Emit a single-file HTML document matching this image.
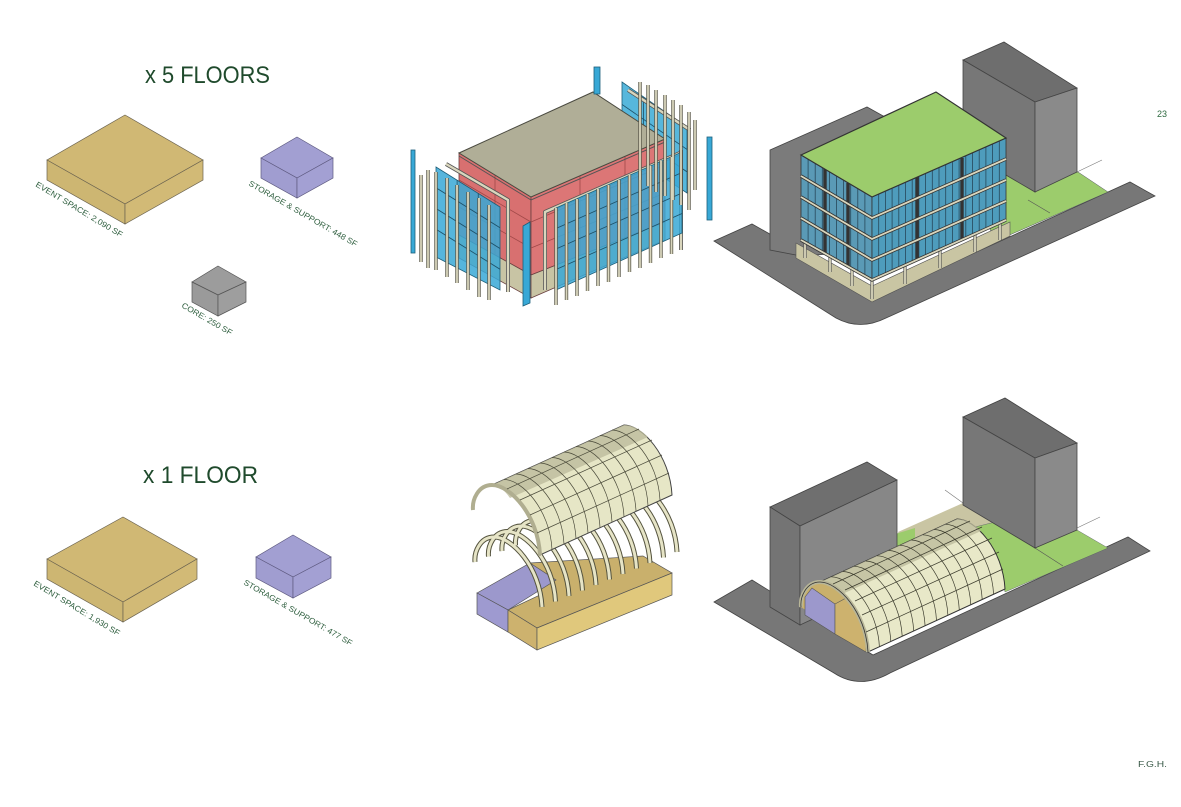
<!DOCTYPE html>
<html><head><meta charset="utf-8"><style>
html,body{margin:0;padding:0;background:#fff;}
svg{display:block;}
text{font-family:"Liberation Sans",sans-serif;}
.g line,.g path{vector-effect:non-scaling-stroke;}
</style></head><body>
<svg width="1181" height="807" viewBox="0 0 1181 807" xmlns="http://www.w3.org/2000/svg">
<defs>
<g id="postsR">
<line x1="556" y1="208" x2="556" y2="305"/><line x1="566.5" y1="203" x2="566.5" y2="300"/><line x1="577" y1="199" x2="577" y2="296"/><line x1="587.5" y1="194" x2="587.5" y2="291"/><line x1="598" y1="189" x2="598" y2="286"/><line x1="608.5" y1="185" x2="608.5" y2="282"/><line x1="619" y1="180" x2="619" y2="277"/><line x1="629.5" y1="175" x2="629.5" y2="272"/><line x1="640" y1="171" x2="640" y2="268"/><line x1="650.5" y1="166" x2="650.5" y2="263"/><line x1="661" y1="161" x2="661" y2="258"/><line x1="671.5" y1="157" x2="671.5" y2="254"/>
<line x1="436" y1="172" x2="436" y2="270"/><line x1="447" y1="178" x2="447" y2="277"/><line x1="457" y1="185" x2="457" y2="283"/><line x1="468" y1="192" x2="468" y2="290"/><line x1="479" y1="198" x2="479" y2="297"/><line x1="489" y1="205" x2="489" y2="300"/><line x1="421" y1="175" x2="421" y2="262"/><line x1="428" y1="170" x2="428" y2="268"/>
<line x1="640" y1="82" x2="640" y2="180"/><line x1="648" y1="85" x2="648" y2="186"/><line x1="656" y1="90" x2="656" y2="192"/><line x1="665" y1="95" x2="665" y2="196"/><line x1="673" y1="100" x2="673" y2="200"/><line x1="681" y1="105" x2="681" y2="205"/><line x1="689" y1="112" x2="689" y2="210"/><line x1="695" y1="120" x2="695" y2="190"/>
</g>
<g id="ribs" fill="none">
<path d="M542,607 c-2,-40 -30,-70 -48,-70 c-14,0 -20,15 -19,25"/>
<path d="M555.5,601.5 c-2,-40 -30,-70 -48,-70 c-14,0 -20,15 -19,25"/>
<path d="M569,596 c-2,-40 -30,-70 -48,-70 c-14,0 -20,15 -19,25"/>
<path d="M582.5,590.5 c-2,-40 -30,-70 -48,-70 c-14,0 -20,15 -19,25"/>
<path d="M596,585 c-2,-40 -30,-70 -48,-70"/>
<path d="M609.5,579.5 c-2,-40 -30,-70 -48,-70"/>
<path d="M623,574 c-2,-40 -30,-70 -48,-70"/>
<path d="M636.5,568.5 c-2,-40 -30,-70 -48,-70"/>
<path d="M650,563 c-2,-40 -30,-70 -48,-70"/>
<path d="M663.5,557.5 c-2,-40 -30,-70 -48,-70"/>
<path d="M677,552 c-2,-40 -30,-70 -48,-70"/>
</g>
</defs>

<!-- titles -->
<text x="145" y="83" font-size="24" fill="#1f4a2c" textLength="125" lengthAdjust="spacingAndGlyphs">x 5 FLOORS</text>
<text x="143" y="483" font-size="24" fill="#1f4a2c" textLength="115" lengthAdjust="spacingAndGlyphs">x 1 FLOOR</text>
<text x="1157" y="117" font-size="9" fill="#2e6a40">23</text>
<text x="1138" y="767" font-size="8" fill="#3a5a48" textLength="29" lengthAdjust="spacingAndGlyphs">F.G.H.</text>

<!-- program boxes top -->
<g stroke="#6b6350" stroke-width="0.7">
<polygon points="125,115 203,160 125,204 47,160" fill="#d0b874"/>
<polygon points="47,160 125,204 125,224 47,180" fill="#cdb672"/>
<polygon points="125,204 203,160 203,180 125,224" fill="#d2ba76"/>
</g>
<g stroke="#5e5a80" stroke-width="0.7">
<polygon points="297,137 333,158 297,178 261,158" fill="#a29fd2"/>
<polygon points="261,158 297,178 297,198 261,178" fill="#a09dd0"/>
<polygon points="297,178 333,158 333,178 297,198" fill="#a3a0d3"/>
</g>
<g stroke="#555" stroke-width="0.7">
<polygon points="218,266 246,282 218,295 192,282" fill="#9c9c9c"/>
<polygon points="192,282 218,295 218,316 192,302" fill="#9a9a9a"/>
<polygon points="218,295 246,282 246,302 218,316" fill="#9e9e9e"/>
</g>
<g font-size="8" fill="#2e5e3e">
<text transform="translate(35,186) rotate(31)" textLength="100" lengthAdjust="spacingAndGlyphs">EVENT SPACE: 2,090 SF</text>
<text transform="translate(248,185) rotate(30)" textLength="124" lengthAdjust="spacingAndGlyphs">STORAGE &amp; SUPPORT: 448 SF</text>
<text transform="translate(181,307) rotate(30)" textLength="57" lengthAdjust="spacingAndGlyphs">CORE: 250 SF</text>
<text transform="translate(33,585) rotate(31)" textLength="99" lengthAdjust="spacingAndGlyphs">EVENT SPACE: 1,930 SF</text>
<text transform="translate(243,584) rotate(30)" textLength="124" lengthAdjust="spacingAndGlyphs">STORAGE &amp; SUPPORT: 477 SF</text>
</g>

<!-- program boxes bottom -->
<g stroke="#6b6350" stroke-width="0.7">
<polygon points="123,517 197,559 123,602 47,559" fill="#d0b874"/>
<polygon points="47,559 123,602 123,622 47,579" fill="#cdb672"/>
<polygon points="123,602 197,559 197,579 123,622" fill="#d2ba76"/>
</g>
<g stroke="#5e5a80" stroke-width="0.7">
<polygon points="293,535 331,557 293,577 256,557" fill="#a29fd2"/>
<polygon points="256,557 293,577 293,598 256,578" fill="#a09dd0"/>
<polygon points="293,577 331,557 331,578 293,598" fill="#a3a0d3"/>
</g>

<!-- ============ TOP MIDDLE: exploded building ============ -->
<!-- back panel -->
<polygon points="622,82 687,127 687,193 622,150" fill="#3aaad6" fill-opacity="0.85" stroke="#1d5f7a" stroke-width="0.8"/>
<g class="g" transform="matrix(65,45,0,68,622,82)" stroke="#1d4f66" stroke-width="0.8">
<line x1="0.33" y1="0" x2="0.33" y2="1"/><line x1="0.66" y1="0" x2="0.66" y2="1"/><line x1="0" y1="0.33" x2="1" y2="0.33"/><line x1="0" y1="0.66" x2="1" y2="0.66"/>
</g>
<polyline points="628,90 690,130" fill="none" stroke="#555" stroke-width="4"/>
<polyline points="628,90 690,130" fill="none" stroke="#d9d6bd" stroke-width="2.4"/>
<!-- red walls -->
<g stroke="#6a4040" stroke-width="0.8">
<polygon points="459,153 531,197 531,275 459,235" fill="#d87070"/>
<polygon points="531,197 665,139 665,222 531,275" fill="#dc7676"/>
<polygon points="459,235 531,275 531,298 459,258" fill="#c8c4a4"/>
<polygon points="531,275 665,222 665,240 531,298" fill="#c8c4a4"/>
</g>
<g stroke="#a04848" stroke-width="0.8">
<line x1="459" y1="180" x2="531" y2="222"/><line x1="459" y1="207" x2="531" y2="248"/>
<line x1="531" y1="222" x2="665" y2="165"/><line x1="531" y1="248" x2="665" y2="193"/>
<line x1="495" y1="175" x2="495" y2="255"/><line x1="580" y1="176" x2="580" y2="256"/><line x1="625" y1="156" x2="625" y2="238"/>
</g>
<!-- roof -->
<polygon points="459,153 593,92 665,139 531,197" fill="#b0ae97" stroke="#4a4a40" stroke-width="1"/>
<polyline points="459,156 531,200 665,142" fill="none" stroke="#555" stroke-width="1"/>
<!-- frames -->
<g fill="none" stroke-linejoin="round">
<polyline points="446,164 508,200 508,292" stroke="#555" stroke-width="4"/>
<polyline points="446,164 508,200 508,292" stroke="#d9d6bd" stroke-width="2.4"/>
<polyline points="545,290 545,212 680,153" stroke="#555" stroke-width="4"/>
<polyline points="545,290 545,212 680,153" stroke="#d9d6bd" stroke-width="2.4"/>
<polyline points="681,150 681,250" stroke="#555" stroke-width="4"/>
<polyline points="681,150 681,250" stroke="#d9d6bd" stroke-width="2.4"/>
</g>
<!-- front panels -->
<polygon points="436,167 500,207 500,290 436,257" fill="#38a8d6" fill-opacity="0.85" stroke="#1d5f7a" stroke-width="0.8"/>
<g class="g" transform="matrix(64,40,0,83,436,167)" stroke="#1d4f66" stroke-width="0.8">
<line x1="0.33" y1="0" x2="0.33" y2="1"/><line x1="0.66" y1="0" x2="0.66" y2="1"/><line x1="0" y1="0.25" x2="1" y2="0.25"/><line x1="0" y1="0.5" x2="1" y2="0.5"/><line x1="0" y1="0.75" x2="1" y2="0.75"/>
</g>
<polygon points="556,208 682,152 682,233 556,290" fill="#38a8d6" fill-opacity="0.85" stroke="#1d5f7a" stroke-width="0.8"/>
<g class="g" transform="matrix(126,-56,0,82,556,208)" stroke="#1d4f66" stroke-width="0.8">
<line x1="0.17" y1="0" x2="0.17" y2="1"/><line x1="0.33" y1="0" x2="0.33" y2="1"/><line x1="0.5" y1="0" x2="0.5" y2="1"/><line x1="0.66" y1="0" x2="0.66" y2="1"/><line x1="0.83" y1="0" x2="0.83" y2="1"/>
<line x1="0" y1="0.25" x2="1" y2="0.25"/><line x1="0" y1="0.5" x2="1" y2="0.5"/><line x1="0" y1="0.75" x2="1" y2="0.75"/>
</g>
<!-- posts -->
<use href="#postsR" stroke="#5a584a" stroke-width="3.4"/>
<use href="#postsR" stroke="#d9d6bd" stroke-width="1.8"/>
<!-- standalone blue columns -->
<g fill="#38a8d6" stroke="#1d5f7a" stroke-width="0.8">
<rect x="411" y="150" width="4" height="103"/>
<rect x="594" y="67" width="6" height="27"/>
<rect x="707" y="137" width="5" height="83"/>
<polygon points="523,226 530,222 530,303 523,306"/>
</g>

<!-- ============ TOP RIGHT SITE ============ -->
<path d="M714,241 L752,224 L880,296 L1130,182 L1155,196 L886,318 Q860,331 836,318 Z" fill="#777" stroke="#444" stroke-width="0.8"/>
<polygon points="1000,172 1078,172 1108,192 1005,237 990,230" fill="#9ccc6c" stroke="#556" stroke-width="0.5"/>
<line x1="1050" y1="213" x2="1028" y2="200" stroke="#555" stroke-width="0.6"/>
<line x1="1077" y1="172" x2="1102" y2="160" stroke="#777" stroke-width="0.6"/>
<polygon points="770,150 867,107 885,117 885,250 801,256 770,250" fill="#7b7b7b" stroke="#444" stroke-width="0.8"/>
<!-- tall building -->
<g stroke="#444" stroke-width="0.8">
<polygon points="963,60 1004,42 1077,88 1035,102" fill="#6e6e6e"/>
<polygon points="963,60 1035,102 1035,192 963,150" fill="#777"/>
<polygon points="1035,102 1077,88 1077,172 1035,192" fill="#8a8a8a"/>
</g>
<!-- ground under building -->
<polygon points="796,243 872,286 1010,222 1010,236 872,302 796,258" fill="#c9c5a3" stroke="#555" stroke-width="0.6"/>
<g stroke="#555" stroke-width="3.2"><line x1="805" y1="240" x2="805" y2="258"/><line x1="830" y1="255" x2="830" y2="272"/><line x1="852" y1="268" x2="852" y2="286"/><line x1="872" y1="280" x2="872" y2="299"/><line x1="905" y1="265" x2="905" y2="284"/><line x1="940" y1="250" x2="940" y2="268"/><line x1="975" y1="235" x2="975" y2="252"/><line x1="1000" y1="222" x2="1000" y2="240"/></g>
<g stroke="#d9d6bd" stroke-width="1.8"><line x1="805" y1="240" x2="805" y2="258"/><line x1="830" y1="255" x2="830" y2="272"/><line x1="852" y1="268" x2="852" y2="286"/><line x1="872" y1="280" x2="872" y2="299"/><line x1="905" y1="265" x2="905" y2="284"/><line x1="940" y1="250" x2="940" y2="268"/><line x1="975" y1="235" x2="975" y2="252"/><line x1="1000" y1="222" x2="1000" y2="240"/></g>
<!-- glazing faces -->
<polygon points="801,155 872,197 872,280 801,240" fill="#5a9ab6" stroke="#333" stroke-width="0.8"/>
<polygon points="872,197 1006,138 1006,220 872,280" fill="#4e9cbc" stroke="#333" stroke-width="0.8"/>
<g class="g" transform="matrix(71,42,0,85,801,155)" stroke="#27485a" stroke-width="0.8">
<line x1="0.1" y1="0" x2="0.1" y2="1"/><line x1="0.2" y1="0" x2="0.2" y2="1"/><line x1="0.3" y1="0" x2="0.3" y2="1"/><line x1="0.4" y1="0" x2="0.4" y2="1"/><line x1="0.5" y1="0" x2="0.5" y2="1"/><line x1="0.6" y1="0" x2="0.6" y2="1"/><line x1="0.7" y1="0" x2="0.7" y2="1"/><line x1="0.8" y1="0" x2="0.8" y2="1"/><line x1="0.9" y1="0" x2="0.9" y2="1"/>
</g>
<g class="g" transform="matrix(134,-59,0,83,872,197)" stroke="#27485a" stroke-width="0.8">
<line x1="0.05" y1="0" x2="0.05" y2="1"/><line x1="0.1" y1="0" x2="0.1" y2="1"/><line x1="0.15" y1="0" x2="0.15" y2="1"/><line x1="0.2" y1="0" x2="0.2" y2="1"/><line x1="0.25" y1="0" x2="0.25" y2="1"/><line x1="0.3" y1="0" x2="0.3" y2="1"/><line x1="0.35" y1="0" x2="0.35" y2="1"/><line x1="0.4" y1="0" x2="0.4" y2="1"/><line x1="0.45" y1="0" x2="0.45" y2="1"/><line x1="0.5" y1="0" x2="0.5" y2="1"/><line x1="0.55" y1="0" x2="0.55" y2="1"/><line x1="0.6" y1="0" x2="0.6" y2="1"/><line x1="0.65" y1="0" x2="0.65" y2="1"/><line x1="0.7" y1="0" x2="0.7" y2="1"/><line x1="0.75" y1="0" x2="0.75" y2="1"/><line x1="0.8" y1="0" x2="0.8" y2="1"/><line x1="0.85" y1="0" x2="0.85" y2="1"/><line x1="0.9" y1="0" x2="0.9" y2="1"/><line x1="0.95" y1="0" x2="0.95" y2="1"/>
</g>
<g stroke="#333" stroke-width="3.4" fill="none">
<polyline points="801,176 872,218 1006,159"/><polyline points="801,197 872,239 1006,180"/><polyline points="801,218 872,260 1006,201"/><polyline points="801,240 872,280 1006,220"/>
<line x1="825" y1="169" x2="825" y2="254"/><line x1="848" y1="183" x2="848" y2="267"/><line x1="917" y1="177" x2="917" y2="260"/><line x1="962" y1="158" x2="962" y2="240"/>
</g>
<g stroke="#d9d6bd" stroke-width="1.8" fill="none">
<polyline points="801,176 872,218 1006,159"/><polyline points="801,197 872,239 1006,180"/><polyline points="801,218 872,260 1006,201"/><polyline points="801,240 872,280 1006,220"/>
</g>
<polygon points="801,155 936,92 1006,138 872,197" fill="#9ccc6c" stroke="#333" stroke-width="1.2"/>

<!-- ============ BOTTOM MIDDLE: vault exploded ============ -->
<g stroke="#555" stroke-width="0.7">
<polygon points="530,563 643,556 672,573 537,628 508,610 540,595" fill="#c9b06c"/>
<polygon points="477,593 530,563 556,580 508,610" fill="#9c98cc"/>
<polygon points="477,593 508,610 508,632 477,614" fill="#9e9ad0"/>
<polygon points="508,610 537,628 537,650 508,632" fill="#cdb26e"/>
<polygon points="537,628 672,573 672,595 537,650" fill="#e0c87c"/>
</g>
<use href="#ribs" stroke="#55543f" stroke-width="5"/>
<use href="#ribs" stroke="#e6e4c6" stroke-width="3"/>
<path d="M473,510 c-1,-10 5,-25 19,-25 L624,425 c18,0 46,30 48,70 L540,555 c-2,-40 -30,-70 -48,-70 c-14,0 -20,15 -19,25 Z" fill="#e6e6c6" stroke="#444" stroke-width="1"/>
<path d="M492,485 L624,425 c10,0 18,6 24,12 L510,498 c-5,-7 -11,-13 -18,-13 Z" fill="#bdbc9c" opacity="0.8"/>
<path d="M540,555 c-2,-40 -30,-70 -48,-70 c-14,0 -20,15 -19,25" fill="none" stroke="#b0ae90" stroke-width="4"/>
<g fill="none" stroke="#4a4a3a" stroke-width="0.7">
<path d="M552,549.5 c-2,-40 -30,-70 -48,-70"/><path d="M564,544 c-2,-40 -30,-70 -48,-70"/><path d="M576,538.5 c-2,-40 -30,-70 -48,-70"/><path d="M588,533 c-2,-40 -30,-70 -48,-70"/><path d="M600,527.5 c-2,-40 -30,-70 -48,-70"/><path d="M612,522 c-2,-40 -30,-70 -48,-70"/><path d="M624,516.5 c-2,-40 -30,-70 -48,-70"/><path d="M636,511 c-2,-40 -30,-70 -48,-70"/><path d="M648,505.5 c-2,-40 -30,-70 -48,-70"/><path d="M660,500 c-2,-40 -30,-70 -48,-70"/>
<line x1="537" y1="533" x2="669" y2="473"/><line x1="530" y1="515" x2="662" y2="455"/><line x1="520" y1="500" x2="652" y2="440"/><line x1="507" y1="489" x2="639" y2="429"/>
</g>

<!-- ============ BOTTOM RIGHT SITE ============ -->
<path d="M714,602 L752,580 L873,655 L1128,537 L1150,551 L890,673 Q860,690 834,673 Z" fill="#777" stroke="#444" stroke-width="0.8"/>
<polygon points="898,532 963,503 1000,515 985,528 905,545" fill="#c9c5a3"/>
<polygon points="892,535 915,528 915,545 895,548" fill="#9ccc6c"/>
<polygon points="975,527 1003,520 1035,548 1077,530 1108,548 1005,592 995,555" fill="#9ccc6c" stroke="#556" stroke-width="0.4"/>
<line x1="1035" y1="548" x2="1063" y2="566" stroke="#555" stroke-width="0.6"/>
<line x1="945" y1="490" x2="963" y2="503" stroke="#777" stroke-width="0.6"/>
<line x1="1077" y1="528" x2="1100" y2="517" stroke="#777" stroke-width="0.6"/>
<g stroke="#444" stroke-width="0.8">
<polygon points="770,507 867,462 897,480 800,526" fill="#6f6f6f"/>
<polygon points="770,507 800,526 800,625 770,607" fill="#747474"/>
<polygon points="800,526 897,480 897,580 800,625" fill="#878787"/>
<polygon points="963,417 1005,398 1077,443 1035,458" fill="#6e6e6e"/>
<polygon points="963,417 1035,458 1035,548 963,505" fill="#777"/>
<polygon points="1035,458 1077,443 1077,530 1035,548" fill="#8a8a8a"/>
</g>
<path d="M801,607 c-1,-10 5,-25 19,-25 L957,519 c18,0 46,30 48,70 L868,652 c-2,-40 -30,-70 -48,-70 c-14,0 -20,15 -19,25 Z" fill="#e8e8c8" stroke="#333" stroke-width="1"/>
<path d="M820,582 L957,519 c10,0 18,6 24,12 L838,596 c-5,-7 -11,-14 -18,-14 Z" fill="#bdbc9c" opacity="0.8"/>
<path d="M868,652 c-2,-40 -30,-70 -48,-70 c-14,0 -20,15 -19,25 Z" fill="#c9b06c"/>
<polygon points="805,597 812,588 835,604 835,634 805,615" fill="#9c98cc" stroke="#555" stroke-width="0.6"/>
<polygon points="835,604 848,597 866,630 866,652 835,634" fill="#cdb26e" stroke="#555" stroke-width="0.6"/>
<path d="M868,652 c-2,-40 -30,-70 -48,-70 c-14,0 -20,15 -19,25" fill="none" stroke="#b8b698" stroke-width="4"/>
<path d="M868,652 c-2,-40 -30,-70 -48,-70 c-14,0 -20,15 -19,25" fill="none" stroke="#333" stroke-width="0.8"/>
<g fill="none" stroke="#3a3a2c" stroke-width="0.7">
<path d="M879.4,646.8 c-2,-40 -30,-70 -48,-70"/><path d="M890.8,641.5 c-2,-40 -30,-70 -48,-70"/><path d="M902.2,636.3 c-2,-40 -30,-70 -48,-70"/><path d="M913.7,631 c-2,-40 -30,-70 -48,-70"/><path d="M925.1,625.8 c-2,-40 -30,-70 -48,-70"/><path d="M936.5,620.5 c-2,-40 -30,-70 -48,-70"/><path d="M947.9,615.3 c-2,-40 -30,-70 -48,-70"/><path d="M959.3,610 c-2,-40 -30,-70 -48,-70"/><path d="M970.8,604.8 c-2,-40 -30,-70 -48,-70"/><path d="M982.2,599.5 c-2,-40 -30,-70 -48,-70"/><path d="M993.6,594.3 c-2,-40 -30,-70 -48,-70"/>
<line x1="866" y1="632" x2="1003" y2="569"/><line x1="862" y1="615" x2="999" y2="552"/><line x1="855" y1="601" x2="992" y2="538"/><line x1="845" y1="590" x2="982" y2="527"/><line x1="833" y1="584" x2="970" y2="521"/>
</g>
</svg>
</body></html>
